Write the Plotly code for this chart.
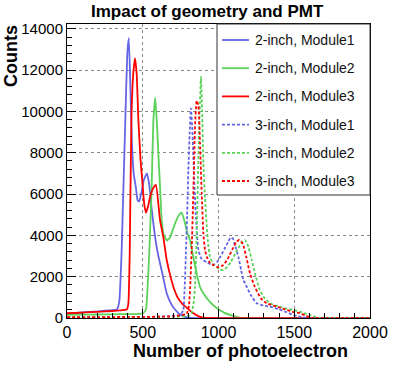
import plotly.graph_objects as go

# Photoelectron spectra
x_2in_m1 = [0, 50, 100, 150, 200, 250, 300, 330, 345, 360, 372, 385, 398, 408, 418, 428,
            440, 455, 466, 477, 492, 508, 528, 542, 560, 580, 600, 625, 658, 690, 720,
            746, 780, 820, 2000]
y_2in_m1 = [220, 240, 270, 300, 320, 350, 380, 420, 800, 3100, 6200, 9600, 12800, 13550,
            11300, 8600, 7000, 6300, 5700, 5650, 6100, 6700, 7000, 6500, 5200, 4000, 3100,
            2300, 1200, 650, 350, 170, 50, 0, 0]

x_2in_m2 = [0, 100, 200, 300, 400, 480, 500, 521, 532, 543, 559, 570, 583, 595, 603, 615,
            625, 640, 660, 680, 700, 720, 740, 757, 775, 795, 812, 835, 856, 878, 900, 940,
            988, 1040, 1098, 1150, 2000]
y_2in_m2 = [150, 160, 170, 180, 190, 200, 230, 400, 1500, 3150, 6350, 9580, 10660, 9200,
            7970, 6200, 4740, 4000, 3750, 3900, 4300, 4700, 5000, 5100, 4700, 4100, 3750,
            2900, 2160, 1500, 1195, 800, 480, 250, 100, 0, 0]

x_2in_m3 = [0, 100, 200, 300, 380, 395, 405, 414, 425, 437, 449, 460, 471, 485, 500, 510,
            521, 535, 550, 570, 587, 614, 636, 658, 680, 702, 730, 760, 790, 830, 870, 900,
            2000]
y_2in_m3 = [230, 260, 300, 340, 390, 420, 700, 3150, 9600, 11800, 12570, 11800, 9600, 7700,
            6350, 5500, 5100, 5400, 5900, 6300, 6440, 4740, 3900, 2810, 2100, 1515, 1000,
            700, 500, 250, 80, 20, 0]

x_3in_m1 = [0, 200, 400, 600, 700, 750, 768, 777, 785, 793, 801, 810, 818, 828, 838, 850,
            867, 885, 900, 922, 945, 966, 990, 1015, 1040, 1065, 1080, 1095, 1110, 1131,
            1150, 1164, 1186, 1210, 1252, 1300, 1340, 1400, 1450, 1494, 1540, 1580, 2000]
y_3in_m1 = [30, 30, 40, 60, 100, 150, 400, 1500, 3150, 5000, 7160, 9000, 10150, 9000, 7000,
            5000, 3300, 2900, 2800, 2700, 2600, 2565, 2700, 3000, 3350, 3700, 3900, 3850,
            3500, 2970, 2300, 1840, 1515, 1150, 710, 600, 547, 420, 280, 145, 60, 0, 0]

x_3in_m2 = [0, 400, 700, 800, 823, 835, 845, 856, 867, 876, 884, 892, 900, 911, 922, 933,
            944, 965, 990, 1010, 1032, 1055, 1080, 1110, 1140, 1160, 1175, 1195, 1220, 1241,
            1270, 1300, 1340, 1400, 1450, 1494, 1538, 1600, 1640, 1670, 2000]
y_3in_m2 = [30, 40, 60, 100, 250, 700, 1515, 4000, 7650, 10000, 11680, 10000, 7500, 5800,
            4500, 3500, 2970, 2600, 2450, 2350, 2320, 2450, 2700, 3100, 3500, 3700, 3775,
            3500, 2800, 2160, 1400, 1000, 710, 550, 450, 390, 300, 150, 60, 0, 0]

x_3in_m3 = [0, 400, 700, 790, 805, 815, 825, 834, 845, 856, 867, 878, 889, 900, 911, 922,
            945, 970, 1000, 1030, 1060, 1090, 1115, 1135, 1160, 1185, 1208, 1240, 1280, 1318,
            1380, 1440, 1500, 1538, 1580, 1620, 2000]
y_3in_m3 = [40, 50, 80, 200, 600, 1800, 3800, 6040, 9260, 10520, 10300, 8460, 6040, 4100,
            3300, 2970, 2650, 2550, 2450, 2550, 2850, 3300, 3650, 3775, 3600, 2900, 2160,
            1500, 950, 710, 560, 420, 280, 230, 100, 0, 0]

series = [
    ("2-inch, Module1", x_2in_m1, y_2in_m1, "#6464e6", "solid"),
    ("2-inch, Module2", x_2in_m2, y_2in_m2, "#5ad25a", "solid"),
    ("2-inch, Module3", x_2in_m3, y_2in_m3, "#ff0000", "solid"),
    ("3-inch, Module1", x_3in_m1, y_3in_m1, "#6464e6", "3px,2px"),
    ("3-inch, Module2", x_3in_m2, y_3in_m2, "#5ad25a", "3px,2px"),
    ("3-inch, Module3", x_3in_m3, y_3in_m3, "#ff0000", "3px,2px"),
]

FONT = "Liberation Sans, Arial, sans-serif"

fig = go.Figure()
for name, xs, ys, color, dash in series:
    fig.add_trace(go.Scatter(x=xs, y=ys, name=name, mode="lines", showlegend=False,
                             line=dict(color=color, width=1.8, dash=dash, shape="spline",
                                       smoothing=0.4)))

# plot area in pixels: x 67..370, y 24..318
L, R, T, B = 67, 370, 24, 318
W, H = R - L, B - T


def px(x):
    return (x - L) / W


def py(y):
    return (B - y) / H


shapes = [dict(type="rect", xref="paper", yref="paper", x0=px(217), x1=1, y0=py(195), y1=1,
               fillcolor="white", line=dict(color="#333333", width=1), layer="above")]
annotations = []
for i, (name, xs, ys, color, dash) in enumerate(series):
    yy = py(40 + i * 28.2)
    shapes.append(dict(type="line", xref="paper", yref="paper", x0=px(222), x1=px(249),
                       y0=yy, y1=yy, line=dict(color=color, width=1.8, dash=dash),
                       layer="above"))
    annotations.append(dict(text=name, xref="paper", yref="paper", x=px(253), y=yy,
                            xanchor="left", yanchor="middle", showarrow=False,
                            font=dict(family=FONT, size=14, color="#111")))

annotations += [
    dict(text="<b>Impact of geometry and PMT</b>", xref="paper", yref="paper",
         x=px(207), y=py(12), xanchor="center", yanchor="middle", showarrow=False,
         font=dict(family=FONT, size=17, color="black")),
    dict(text="<b>Counts</b>", xref="paper", yref="paper", x=px(11), y=py(56),
         xanchor="center", yanchor="middle", textangle=-90, showarrow=False,
         font=dict(family=FONT, size=18, color="black")),
    dict(text="<b>Number of photoelectron</b>", xref="paper", yref="paper", x=px(240),
         y=py(351), xanchor="center", yanchor="middle", showarrow=False,
         font=dict(family=FONT, size=18, color="black")),
]

axis_common = dict(showline=True, linecolor="black", linewidth=1, mirror=True,
                   ticks="inside", tickcolor="black", ticklen=9, tickwidth=1,
                   showgrid=True, gridcolor="#888888", griddash="dot", gridwidth=1,
                   zeroline=False)

fig.update_layout(
    width=415, height=369,
    margin=dict(l=L, r=415 - R, t=T, b=369 - B),
    paper_bgcolor="white", plot_bgcolor="white",
    font=dict(family=FONT, color="black"),
    xaxis=dict(range=[0, 2000], tickvals=[0, 500, 1000, 1500, 2000],
               tickfont=dict(size=16), minor=dict(dtick=100, ticks="inside", ticklen=5,
                                                  tickcolor="black", showgrid=False),
               **axis_common),
    yaxis=dict(range=[0, 14230], dtick=2000, tickformat="d", tickfont=dict(size=15),
               minor=dict(dtick=400, ticks="inside", ticklen=5, tickcolor="black",
                          showgrid=False),
               **axis_common),
    shapes=shapes,
    annotations=annotations,
)

# drop the page's default body margin so the figure sits at the window origin
fig.write_html("out.html", config={"displayModeBar": False},
               post_script="document.body.style.margin='0';")
